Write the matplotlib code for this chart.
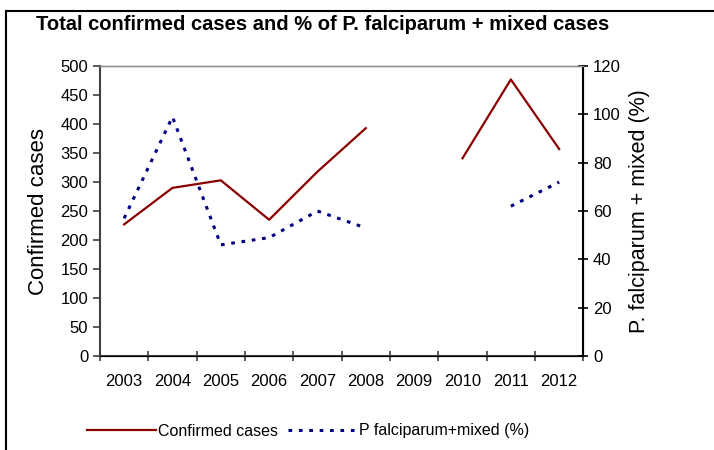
import numpy as np
import matplotlib.pyplot as plt
from matplotlib.lines import Line2D

plt.rcParams.update({
    "font.family": "Liberation Sans",
    "font.size": 11,
})

years = ["2003", "2004", "2005", "2006", "2007", "2008", "2009", "2010", "2011", "2012"]
confirmed = [227, 290, 303, 235, 318, 393, np.nan, 341, 477, 357]
pf_mixed = [57, 99, 46, 49, 60, 53, np.nan, np.nan, 62, 72]

red = "#8B0000"
navy = "#000080"

fig = plt.figure(figsize=(7.14, 4.5), dpi=100)
ax = fig.add_axes([0.140, 0.209, 0.677, 0.644])
ax2 = ax.twinx()

x = np.arange(len(years))
l1, = ax.plot(x, confirmed, color=red, lw=1.6, label="Confirmed cases")
l2, = ax2.plot(x, pf_mixed, color=navy, lw=2.2, linestyle=(0, (1.2, 2.2)),
               label="P falciparum+mixed (%)")

ax.set_xlim(-0.5, len(years) - 0.5)
ax.set_ylim(0, 500)
ax.set_yticks(np.arange(0, 501, 50))
ax2.set_ylim(0, 120)
ax2.set_yticks(np.arange(0, 121, 20))

# category labels in the middle, tick marks on the boundaries
ax.set_xticks(x)
ax.set_xticklabels(years)
ax.set_xticks(np.arange(-0.5, len(years)), minor=True)
ax.tick_params(axis="x", which="major", length=0, pad=13, labelsize=12)
ax.tick_params(axis="x", which="minor", length=7, direction="inout", width=1.2, color="#404040")
ax.tick_params(axis="y", length=5, direction="out", width=1.2, color="#404040", labelsize=12)
ax2.tick_params(axis="y", length=7, direction="inout", width=1.2, color="black", labelsize=12)

for a in (ax, ax2):
    a.spines["top"].set_color("#909090")
    a.spines["top"].set_linewidth(1.0)
ax.spines["left"].set_color("#404040")
ax.spines["bottom"].set_color("#404040")
ax.spines["left"].set_linewidth(1.5)
ax.spines["bottom"].set_linewidth(1.5)
ax2.spines["right"].set_linewidth(1.5)
ax2.spines["right"].set_color("black")
ax2.spines["left"].set_visible(False)

ax.set_ylabel("Confirmed cases", fontsize=16, labelpad=8)
ax2.set_ylabel("P. falciparum + mixed (%)", fontsize=15.5, labelpad=6)

fig.text(36 / 714, 1 - 25 / 450, "Total confirmed cases and % of P. falciparum + mixed cases",
         fontsize=14.5, fontweight="bold", va="center", ha="left")

fig.legend(handles=[l1, l2], loc="center", bbox_to_anchor=(308 / 714, 1 - 431 / 450),
           ncol=2, frameon=False, fontsize=11.5, handlelength=4.3, handletextpad=0.15,
           columnspacing=0.6)

# outer frame (left and top only)
fig.add_artist(Line2D([6 / 714, 6 / 714], [0, 1 - 11 / 450], color="black", lw=1.5))
fig.add_artist(Line2D([6 / 714, 1], [1 - 11 / 450, 1 - 11 / 450], color="black", lw=1.5))

fig.savefig("out.png", dpi=100)
